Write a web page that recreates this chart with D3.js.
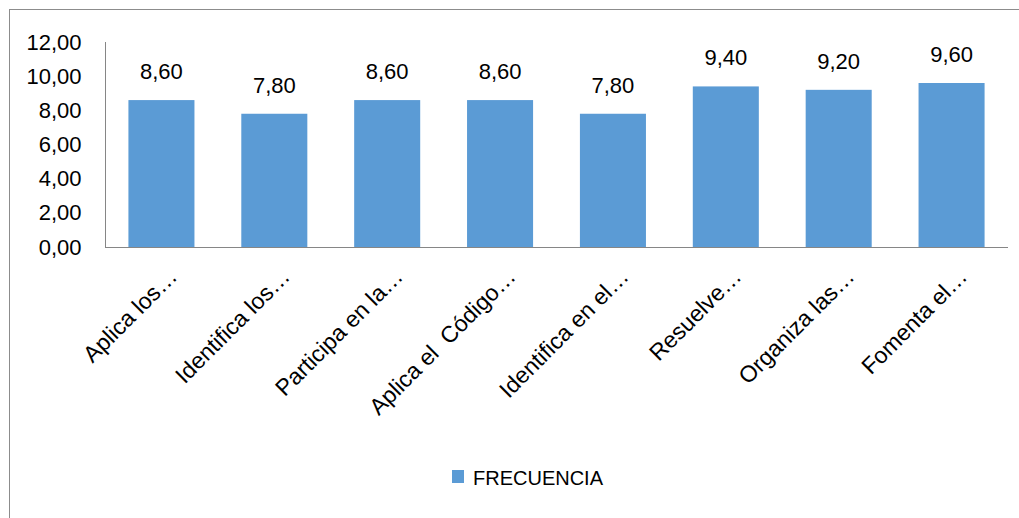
<html>
<head>
<meta charset="utf-8">
<script src="https://cdn.jsdelivr.net/npm/d3@7"></script>
<style>
  body { margin: 0; background: #fff; }
  svg { display: block; font-family: "Liberation Sans", Arial, sans-serif; }
  .domain, .tick line { stroke: #868686; }
  .cat { white-space: pre; }
</style>
</head>
<body>
<svg id="chart"></svg>
<script>
const WIDTH = 1019
const HEIGHT = 518

// data
const categories = ["Aplica los…", "Identifica los…", "Participa en la…", "Aplica el  Código…",
                    "Identifica en el…", "Resuelve…", "Organiza las…", "Fomenta el…"]
const values = [8.6, 7.8, 8.6, 8.6, 7.8, 9.4, 9.2, 9.6]
const yTicks = [0, 2, 4, 6, 8, 10, 12]
const seriesName = "FRECUENCIA"

const fmt = v => d3.format(".2f")(v).replace(".", ",")

function draw() {
  let svg = d3.select("#chart")
    .attr("width", WIDTH)
    .attr("height", HEIGHT)

  // outer chart frame (right/bottom edges fall off the picture)
  svg.append("rect")
    .attr("x", 9.5).attr("y", 9.5)
    .attr("width", 1030).attr("height", 540)
    .attr("fill", "white")
    .attr("stroke", "#8c8c8c")
    .attr("stroke-width", 1)

  let left = 105, right = 1008, top = 42, bottom = 247

  let x = d3.scaleBand()
    .domain(categories)
    .range([left, right])
    .paddingInner(0.415)
    .paddingOuter(0.2075)

  let y = d3.scaleLinear()
    .domain([0, 12])
    .range([bottom, top])

  // bars
  svg.append("g")
    .selectAll("rect")
    .data(values)
    .enter()
    .append("rect")
      .attr("x", (d, i) => x(categories[i]))
      .attr("y", d => y(d))
      .attr("width", x.bandwidth())
      .attr("height", d => y(0) - y(d))
      .attr("fill", "#5b9bd5")

  // value labels
  svg.append("g")
    .selectAll("text")
    .data(values)
    .enter()
    .append("text")
      .attr("x", (d, i) => x(categories[i]) + x.bandwidth() / 2)
      .attr("y", d => y(d) - 21)
      .attr("text-anchor", "middle")
      .attr("font-size", 22)
      .attr("fill", "#000")
      .text(d => fmt(d))

  // y axis
  let yAxis = svg.append("g")
    .attr("transform", `translate(${left + 0.5},0)`)
    .call(d3.axisLeft(y).tickValues(yTicks).tickSize(0).tickPadding(24).tickFormat(fmt))
  yAxis.selectAll("text").attr("font-size", 22).attr("fill", "#000").attr("font-family", "Liberation Sans, Arial, sans-serif")
  yAxis.select(".domain").attr("d", `M0,${top}V${bottom + 0.5}`)

  // x axis
  let xAxis = svg.append("g")
    .attr("transform", `translate(0,${bottom + 0.5})`)
    .call(d3.axisBottom(x).tickSize(0).tickFormat(""))
  xAxis.select(".domain").attr("d", `M${left},0H${right}`)

  svg.append("g")
    .selectAll("text")
    .data(categories)
    .enter()
    .append("text")
      .attr("class", "cat")
      .attr("transform", d => `translate(${x(d) + x.bandwidth() / 2 + 17},${bottom + 31}) rotate(-45)`)
      .attr("text-anchor", "end")
      .attr("font-size", 23)
      .attr("fill", "#000")
      .text(d => d)

  // legend
  let legend = svg.append("g").attr("transform", "translate(452,470)")
  legend.append("rect")
    .attr("width", 12).attr("height", 13)
    .attr("fill", "#5b9bd5")
  legend.append("text")
    .attr("x", 21).attr("y", 15)
    .attr("font-size", 20)
    .attr("fill", "#000")
    .text(seriesName)
}

draw()
</script>
</body>
</html>
